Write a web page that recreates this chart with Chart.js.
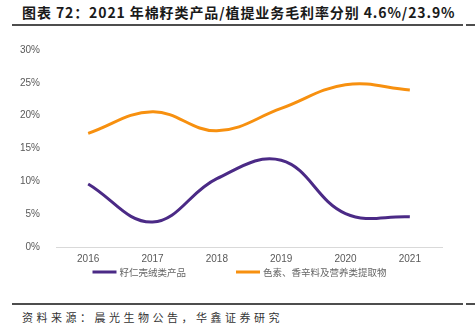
<!DOCTYPE html>
<html>
<head>
<meta charset="utf-8">
<script src="https://cdn.jsdelivr.net/npm/chart.js@4.4.1/dist/chart.umd.min.js"></script>
<style>
  html, body { margin: 0; padding: 0; background: #fff; }
  body { width: 475px; height: 331px; position: relative; overflow: hidden; }
  .title {
    position: absolute; left: 22px; top: 3px;
    font-family: "Noto Sans CJK SC", sans-serif; font-weight: bold;
    font-size: 14px; letter-spacing: 0.9px; color: #1a1a1a; white-space: nowrap; line-height: 18px;
  }
  .rule { position: absolute; height: 2px; background: #4d4d4d; }
  .source {
    position: absolute; left: 22px; top: 309px;
    font-family: "Noto Sans CJK SC", sans-serif; font-size: 11px;
    letter-spacing: 3.5px; color: #333; white-space: nowrap; line-height: 16px;
  }
  .wrap { position: absolute; left: 0; top: 36px; width: 475px; height: 254px; }
</style>
</head>
<body>
<div class="title">图表 72：2021 年棉籽类产品/植提业务毛利率分别 4.6%/23.9%</div>
<div class="rule" style="left:12px;top:24px;width:451px;"></div>
<div class="rule" style="left:466px;top:24px;width:9px;"></div>
<div class="wrap"><canvas id="c"></canvas></div>
<div class="rule" style="left:12px;top:303px;width:451px;"></div>
<div class="rule" style="left:466px;top:303px;width:9px;"></div>
<div class="source">资料来源：晨光生物公告，华鑫证券研究</div>

<script>
// Years on the category axis
const years = ['2016', '2017', '2018', '2019', '2020', '2021'];

// Gross margin (%) by business line
const seedProducts = [9.6, 3.8, 10.4, 13.2, 5.1, 4.6];        // 籽仁壳绒类产品
const extractProducts = [17.3, 20.6, 17.7, 21.1, 24.7, 23.9]; // 色素、香辛料及营养类提取物

// Y-axis tick values (%)
const yTicks = [0, 5, 10, 15, 20, 25, 30];

const seriesNames = ['籽仁壳绒类产品', '色素、香辛料及营养类提取物'];

// Legend drawn below the axis with a wide gap between the two entries
const bottomLegend = {
  id: 'bottomLegend',
  afterDraw(chart) {
    const ctx = chart.ctx;
    const font = '9.5px "Noto Sans CJK SC", sans-serif';
    const lineW = 24, textGap = 3, itemGap = 50;
    ctx.save();
    ctx.font = font;
    const items = chart.data.datasets.map(ds => ({
      text: ds.label, color: ds.borderColor, w: lineW + textGap + ctx.measureText(ds.label).width
    }));
    const total = items.reduce((s, it) => s + it.w, 0) + itemGap * (items.length - 1);
    let x = chart.width / 2 + 2 - total / 2;
    const y = chart.chartArea.bottom + 25;
    ctx.textBaseline = 'middle';
    ctx.textAlign = 'left';
    items.forEach(it => {
      ctx.fillStyle = it.color;
      ctx.fillRect(x, y - 1.5, lineW, 3);
      ctx.fillStyle = '#666';
      ctx.fillText(it.text, x + lineW + textGap, y + 0.5);
      x += it.w + itemGap;
    });
    ctx.restore();
  }
};

new Chart(document.getElementById('c'), {
  type: 'line',
  data: {
    labels: years,
    datasets: [
      {
        label: seriesNames[0],
        data: seedProducts,
        borderColor: '#4b2a86',
        backgroundColor: '#4b2a86',
        borderWidth: 3,
        pointRadius: 0,
        tension: 0.4
      },
      {
        label: seriesNames[1],
        data: extractProducts,
        borderColor: '#f7900f',
        backgroundColor: '#f7900f',
        borderWidth: 3,
        pointRadius: 0,
        tension: 0.4
      }
    ]
  },
  plugins: [bottomLegend],
  options: {
    responsive: true,
    maintainAspectRatio: false,
    animation: false,
    layout: { padding: { left: 0, right: 33, top: 6, bottom: 19 } },
    plugins: {
      tooltip: { enabled: false },
      legend: { display: false }
    },
    scales: {
      x: {
        offset: true,
        grid: { display: false, drawTicks: false },
        border: { display: true, color: '#d9d9d9', width: 1 },
        ticks: {
          color: '#595959',
          padding: 6,
          font: { family: '"Liberation Sans", Arial, sans-serif', size: 10 }
        }
      },
      y: {
        min: 0,
        max: 30,
        afterBuildTicks: (axis) => { axis.ticks = yTicks.map(v => ({ value: v })); },
        afterFit: (axis) => { axis.width = 56; },
        grid: { display: false },
        border: { display: false },
        ticks: {
          color: '#595959',
          padding: 8,
          font: { family: '"Liberation Sans", Arial, sans-serif', size: 10 },
          callback: (v) => v + '%'
        }
      }
    }
  }
});
</script>
</body>
</html>
